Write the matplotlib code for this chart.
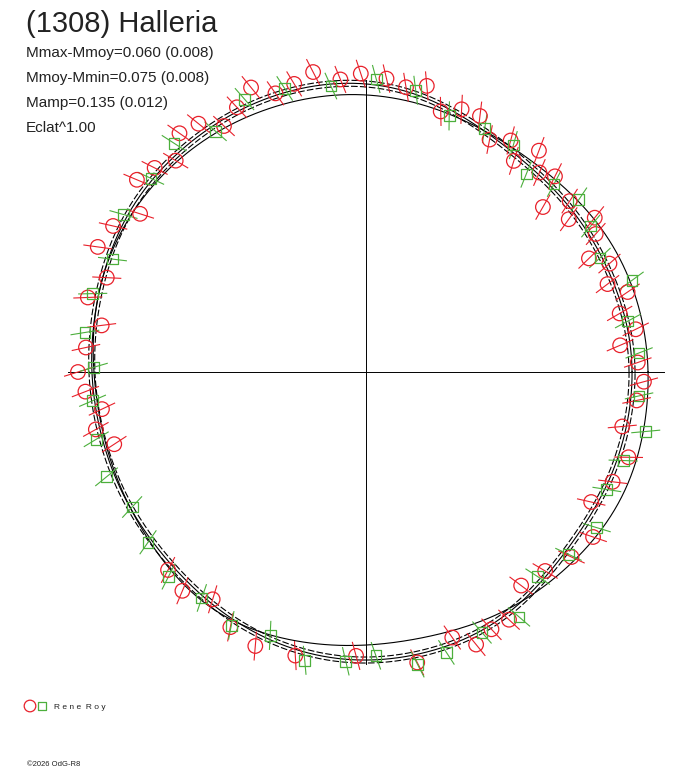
import numpy as np
import matplotlib.pyplot as plt

# centre of the polar plot in pixel space
cx, cy = 366, 372

# fitted lightcurve (radius in px) every 15 deg, angle counter-clockwise from +x
fit_angles = np.arange(0, 360, 15)
fit_r = [266, 264, 262, 262, 266, 278, 288, 291, 290, 288, 284, 278,
         274, 272, 272, 274, 280, 286, 288, 286, 280, 270, 266, 266]
model_r = [282, 280, 276, 270, 268, 272, 277, 280, 282, 283, 282, 278,
           272, 270, 272, 278, 282, 278, 273, 272, 276, 280, 284, 284]

# observations: phase angle (deg) and radial offset from fit (px)
red_ang = [2, 6, 9, 13, 17, 20, 24, 27, 31, 34, 37, 40, 43, 46, 49, 52, 55, 58,
           62, 66, 70, 74, 78, 82, 86, 91, 95, 100, 104, 108, 112, 116, 120, 124,
           128, 132, 136, 140, 145, 150, 155, 160, 165, 170, 175, 180, 184, 188,
           192, 196, 225, 230, 236, 242, 248, 256, 268, 280, 288, 292, 296, 300,
           306, 312, 318, 324, 330, 336, 342, 348, 354, 358]
red_off = [6, -10, 8, -4, 10, -6, 4, -12, 6, 14, -8, 4, -20, 10, 2, 18, -6, 8,
           -4, 10, 6, -6, 12, 4, 8, 10, 4, 14, 6, 2, 16, 4, -6, 10, 14, -4, 6, 12,
           -10, 8, 14, -4, 10, -8, 6, 14, 8, -6, 4, -10, 6, 10, -4, 8, 12, 6, -4,
           8, -6, 10, 4, 6, -12, -4, 8, 14, -6, 4, 10, -4, 6, 12]
green_ang = [4, 11, 19, 26, 33, 39, 45, 51, 57, 64, 72, 80, 88, 97, 106, 114,
             122, 130, 138, 147, 156, 164, 172, 179, 186, 194, 202, 210, 218, 226,
             234, 242, 250, 258, 266, 272, 280, 286, 294, 302, 310, 318, 326, 334,
             341, 348, 355]
green_off = [8, 2, 18, -2, 6, 12, 4, -8, 6, 2, -6, 4, 6, -2, 4, 8, -6, 10, 2, 4,
             -4, 6, 8, -2, 2, 6, 8, -2, 4, 10, 2, 6, -4, 8, 2, -4, 10, 6, 2, 10,
             -6, 4, 12, 2, 6, 20, 8]


def fourier_curve(angles_deg, radii, n=720):
    # smooth closed curve through the sampled radii
    c = np.fft.rfft(radii)
    t = np.linspace(0, 2 * np.pi, n)
    k = np.arange(len(c))
    r = (c[0].real + 2 * np.sum(
        (c[1:, None] * np.exp(1j * k[1:, None] * t[None, :])).real, axis=0)) / len(radii)
    return t, r


def fit_at(a_deg):
    t, r = fourier_curve(fit_angles, fit_r)
    return np.interp(np.radians(a_deg) % (2 * np.pi), t, r)


def to_px(theta, r):
    return cx + r * np.cos(theta), cy - r * np.sin(theta)


fig = plt.figure(figsize=(6.88, 7.68), dpi=100)
ax = fig.add_axes([0, 0, 1, 1])
ax.set_xlim(0, 688)
ax.set_ylim(768, 0)
ax.axis('off')

# axes cross
ax.plot([68, 664], [cy, cy], color='black', lw=0.7)
ax.plot([cx, cx], [80, 664], color='black', lw=0.7)

t, r = fourier_curve(fit_angles, fit_r)
for d in (-3, 0, 3):
    x, y = to_px(t, np.array(r) + d)
    ax.plot(x, y, color='black', lw=0.8, ls=(0, (6, 2)) if d else '-')
t, r = fourier_curve(fit_angles, model_r)
x, y = to_px(t, r)
ax.plot(x, y, color='black', lw=0.8)


def draw_points(ang, off, color, marker, size):
    ang = np.array(ang, dtype=float)
    rr = fit_at(ang) + np.array(off)
    th = np.radians(ang)
    x, y = to_px(th, rr)
    for xi, yi, ti in zip(x, y, th):
        dx, dy = 14 * np.cos(ti + 0.3), -14 * np.sin(ti + 0.3)
        ax.plot([xi - dx, xi + dx], [yi - dy, yi + dy], color=color, lw=0.8)
    ax.scatter(x, y, s=size, marker=marker, facecolors='none', edgecolors=color, lw=0.9, zorder=3)


draw_points(red_ang, red_off, '#e8202a', 'o', 110)
draw_points(green_ang, green_off, '#4caf3c', 's', 60)

# texts
ax.text(26, 32, '(1308) Halleria', fontsize=21, color='#222222', family='Liberation Sans')
lines = ['Mmax-Mmoy=0.060 (0.008)', 'Mmoy-Mmin=0.075 (0.008)', 'Mamp=0.135 (0.012)', 'Eclat^1.00']
for i, s in enumerate(lines):
    ax.text(26, 57 + i * 25, s, fontsize=11, color='#222222', family='Liberation Sans')

ax.scatter([30], [706], s=70, marker='o', facecolors='none', edgecolors='#e8202a', lw=0.9)
ax.scatter([42], [706], s=40, marker='s', facecolors='none', edgecolors='#4caf3c', lw=0.9)
ax.text(54, 709, 'R e n e  R o y', fontsize=6, color='#222222', family='Liberation Sans')
ax.text(27, 766, '©2026 OdG-R8', fontsize=5.5, color='#222222', family='Liberation Sans')

fig.savefig('out.png', dpi=100)
